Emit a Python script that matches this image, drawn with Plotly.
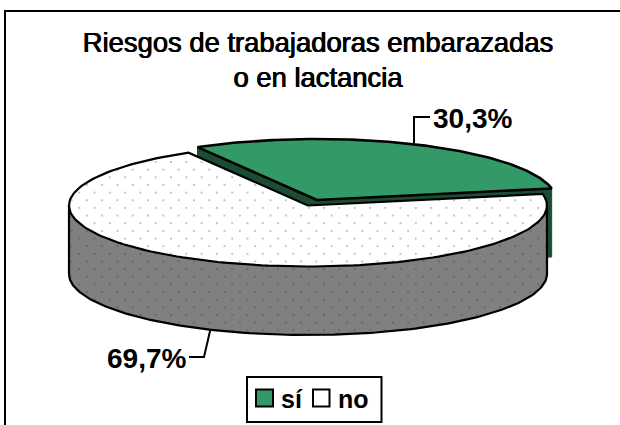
import numpy as np
import plotly.graph_objects as go

# ---------- data ----------
categories = ["sí", "no"]
values = [30.3, 69.7]
labels = ["30,3%", "69,7%"]
title_lines = ["Riesgos de trabajadoras embarazadas", "o en lactancia"]

# ---------- style / geometry ----------
W, H = 620, 425
GREEN, DARK = "#339966", "#1a4d33"
DOT_ON_WHITE = "#1f7f50"
GRAY = "#808080"
FIRST_ANGLE = 120.0           # math degrees where the first slice starts
CX, CY, RX, RY, DEPTH = 308.0, 205.5, 239.0, 61.0, 68.5
EXPLODE = (9.0, -5.5)
TILE = 15.3
SOLID = 0.013
OX, OY = 10.35, 1.35          # phase of the dot lattice
DX, DY = TILE / 2, TILE / 2   # stagger of the second lattice
FONT = "Liberation Sans"
HEAVY = "0.5px 0 0 black, -0.4px 0 0 black"

sweep = 360.0 * values[0] / sum(values)
a0, a1 = FIRST_ANGLE, FIRST_ANGLE - sweep


def arc(cx, cy, start, stop, n=160):
    t = np.radians(np.linspace(start, stop, n))
    return cx + RX * np.cos(t), cy - RY * np.sin(t)


fig = go.Figure()


def add(x, y, sub="", **kw):
    kw.setdefault("mode", "lines")
    kw.setdefault("showlegend", False)
    kw.setdefault("hoverinfo", "skip")
    fig.add_trace(go.Scatter(x=list(x), y=list(y), xaxis="x" + sub, yaxis="y" + sub, **kw))


gx, gy = CX + EXPLODE[0], CY + EXPLODE[1]
xa, ya = arc(gx, gy, a0, a1)

wx, wy = arc(CX, CY, a1, a0 - 360)
white_x = [CX] + list(wx) + [CX]
white_y = [CY] + list(wy) + [CY]
tx, ty = arc(CX, CY, 0, -180)
bx, by = arc(CX, CY + DEPTH, -180, 0)
side_x = list(tx) + list(bx) + [tx[0]]
side_y = list(ty) + list(by) + [ty[0]]

NOLINE = dict(width=0)
for k in (0, -1):
    add([gx, xa[k], xa[k], gx, gx], [gy, ya[k], ya[k] + DEPTH, gy + DEPTH, gy],
        fill="toself", fillcolor=DARK, line=dict(color=DARK, width=1))

add(side_x, side_y, fill="toself", fillcolor=GRAY, line=NOLINE,
    fillpattern=dict(shape=".", size=TILE, solidity=SOLID, fgcolor=DARK, bgcolor=GRAY))
add(white_x, white_y, fill="toself", fillcolor="white", line=NOLINE, name=categories[1],
    fillpattern=dict(shape=".", size=TILE, solidity=SOLID, fgcolor=DOT_ON_WHITE, bgcolor="white"))
CLEAR = "rgba(0,0,0,0)"
add(side_x, side_y, "2", fill="toself", fillcolor=CLEAR, line=NOLINE,
    fillpattern=dict(shape=".", size=TILE, solidity=SOLID, fgcolor=DARK, bgcolor=CLEAR))
add(white_x, white_y, "2", fill="toself", fillcolor=CLEAR, line=NOLINE,
    fillpattern=dict(shape=".", size=TILE, solidity=SOLID, fgcolor=DOT_ON_WHITE, bgcolor=CLEAR))

INK = dict(color="black", width=2.2)
add(white_x, white_y, "3", line=INK)
add(list(bx), list(by), "3", line=INK)
add([tx[0], bx[-1]], [ty[0], by[-1]], "3", line=INK)
add([tx[-1], bx[0]], [ty[-1], by[0]], "3", line=INK)
add([gx] + list(xa) + [gx], [gy] + list(ya) + [gy], "3", name=categories[0],
    fill="toself", fillcolor=GREEN, line=dict(color="black", width=2.6))

layout_axes = {}
axes = {
    "": (OX, OY, W - DX - OX, H - DY - OY),
    "2": (OX + DX, OY + DY, W - DX - OX, H - DY - OY),
    "3": (0, 0, W, H),
}
for sub, (l, t, w, h) in axes.items():
    base = dict(visible=False, fixedrange=True, showgrid=False, zeroline=False)
    layout_axes["xaxis" + sub] = dict(base, domain=[l / W, (l + w) / W], range=[l, l + w])
    layout_axes["yaxis" + sub] = dict(base, domain=[1 - (t + h) / H, 1 - t / H], range=[t + h, t])
    if sub:
        layout_axes["xaxis" + sub]["anchor"] = "y" + sub
        layout_axes["yaxis" + sub]["anchor"] = "x" + sub

LINE2 = dict(color="black", width=2)
shapes = [
    dict(type="rect", xref="x3", yref="y3", x0=5, y0=11, x1=640, y1=445, line=LINE2, layer="below"),
    dict(type="path", xref="x3", yref="y3", path="M414,143 L414,117 L430,117", line=LINE2),
    dict(type="path", xref="x3", yref="y3", path="M210.5,329 L204,357 L189,357", line=LINE2),
    # legend box and swatches
    dict(type="rect", xref="x3", yref="y3", x0=247, y0=377, x1=381.5, y1=422,
         line=LINE2, fillcolor="white"),
    dict(type="rect", xref="x3", yref="y3", x0=256, y0=389.5, x1=273, y1=406.5,
         line=LINE2, fillcolor=GREEN),
    dict(type="rect", xref="x3", yref="y3", x0=313, y0=389.5, x1=329.5, y1=406.5,
         line=LINE2, fillcolor="white"),
]
LABEL = dict(family=FONT, size=28, color="black", weight="bold")
LEG = dict(family=FONT, size=25, color="black", weight="bold")
annotations = [
    dict(xref="x3", yref="y3", x=472, y=118, text=labels[0], showarrow=False, font=LABEL),
    dict(xref="x3", yref="y3", x=146, y=358, text=labels[1], showarrow=False, font=LABEL),
    dict(xref="x3", yref="y3", x=279, y=399, text=categories[0], showarrow=False, xanchor="left", font=LEG),
    dict(xref="x3", yref="y3", x=336, y=399, text=categories[1], showarrow=False, xanchor="left", font=LEG),
]

fig.update_layout(
    width=W, height=H, margin=dict(l=0, r=0, t=0, b=0), showlegend=False,
    paper_bgcolor="white", plot_bgcolor="rgba(0,0,0,0)",
    title=dict(text="<br>".join(title_lines), x=318 / W, xanchor="center",
               y=1 - 51.5 / H, yanchor="top",
               font=dict(family=FONT, size=27.4, color="black", shadow=HEAVY)),
    shapes=shapes, annotations=annotations, **layout_axes,
)
fig.write_html("out.html", config={"displayModeBar": False},
               post_script="document.body.style.margin='0';document.documentElement.style.overflow='hidden';")
